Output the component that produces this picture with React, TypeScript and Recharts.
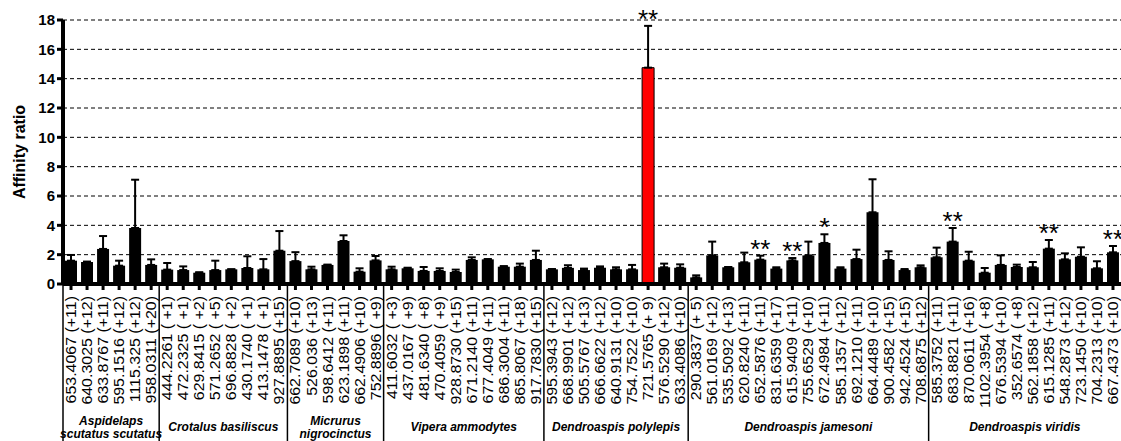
import { ComposedChart, Bar, Cell, ErrorBar, Scatter, XAxis, YAxis, CartesianGrid } from "recharts";

const LABELS = [
  "653.4067 (+11)", "640.3025 (+12)", "633.8767 (+11)", "595.1516 (+12)", "1115.325 (+12)", "958.0311 (+20)",
  "444.2261 ( +1)", "472.2325 ( +1)", "629.8415 ( +2)", "571.2652 ( +5)", "696.8828 ( +2)", "430.1740 ( +1)",
  "413.1478 ( +1)", "927.8895 (+15)",
  "662.7089 (+10)", "526.036 (+13)", "598.6412 (+11)", "623.1898 (+11)", "662.4906 (+10)", "752.8896 ( +9)",
  "411.6032 ( +3)", "437.0167 ( +9)", "481.6340 ( +8)", "470.4059 ( +9)", "928.8730 (+15)", "671.2140 (+11)",
  "677.4049 (+11)", "686.3004 (+11)", "865.8067 (+18)", "917.7830 (+15)",
  "595.3943 (+12)", "668.9901 (+12)", "505.5767 (+13)", "666.6622 (+12)", "640.9131 (+10)", "754.7522 (+10)",
  "721.5765 (+ 9)", "576.5290 (+12)", "633.4086 (+10)",
  "290.3837 (+ 5)", "561.0169 (+12)", "535.5092 (+13)", "620.8240 (+11)", "652.5876 (+11)", "831.6359 (+17)",
  "615.9409 (+11)", "755.6529 (+10)", "672.4984 (+11)", "585.1357 (+12)", "692.1210 (+11)", "664.4489 (+10)",
  "900.4582 (+15)", "942.4524 (+15)", "708.6875 (+12)",
  "585.3752 (+11)", "683.8821 (+11)", "870.0611 (+16)", "1102.3954 ( +8)", "676.5394 (+10)", "352.6574 ( +8)",
  "562.1858 (+12)", "615.1285 (+11)", "548.2873 (+12)", "723.1450 (+10)", "704.2313 (+10)", "667.4373 (+10)",
];

const RATIO = [
  1.59, 1.5, 2.39, 1.25, 3.82, 1.3,
  0.98, 0.95, 0.77, 0.95, 1.0, 1.09, 1.0, 2.27,
  1.56, 1.0, 1.3, 2.93, 0.84, 1.61,
  1.0, 1.07, 0.89, 0.89, 0.82, 1.64, 1.68, 1.18, 1.18, 1.64,
  1.0, 1.1, 0.95, 1.11, 1.0, 1.0, 14.75, 1.14, 1.11,
  0.45, 1.95, 1.14, 1.48, 1.66, 1.05, 1.61, 1.95, 2.8, 1.05, 1.7, 4.89, 1.64, 0.95, 1.14,
  1.82, 2.89, 1.59, 0.77, 1.3, 1.16, 1.14, 2.41, 1.68, 1.86, 1.07, 2.16,
];

// upper end of each error bar
const ERR_TOP = [
  1.98, 1.53, 3.27, 1.59, 7.11, 1.68,
  1.43, 1.2, 0.8, 1.59, 1.0, 1.89, 1.7, 3.61,
  2.17, 1.18, 1.32, 3.32, 1.07, 1.91,
  1.18, 1.11, 1.16, 1.07, 0.98, 1.82, 1.7, 1.22, 1.39, 2.27,
  1.02, 1.28, 1.05, 1.2, 1.14, 1.3, 17.6, 1.39, 1.34,
  0.59, 2.89, 1.16, 2.14, 1.93, 1.14, 1.77, 2.89, 3.39, 1.14, 2.34, 7.14, 2.23, 1.02, 1.27,
  2.48, 3.82, 2.2, 1.09, 1.95, 1.32, 1.5, 3.0, 2.09, 2.5, 1.55, 2.59,
];

const SIG_LABELS = ["721.5765 (+ 9)", "652.5876 (+11)", "615.9409 (+11)", "672.4984 (+11)", "683.8821 (+11)", "615.1285 (+11)", "667.4373 (+10)"];
const SIG_MARKS = ["**", "**", "**", "*", "**", "**", "**"];

const HIGHLIGHT = "721.5765 (+ 9)";

const GROUP_NAMES = [
  ["Aspidelaps", "scutatus scutatus"],
  ["Crotalus basiliscus"],
  ["Micrurus", "nigrocinctus"],
  ["Vipera ammodytes"],
  ["Dendroaspis polylepis"],
  ["Dendroaspis jamesoni"],
  ["Dendroaspis viridis"],
];
const GROUP_SIZES = [6, 8, 6, 10, 9, 15, 12];

const Y_TICKS = [0, 2, 4, 6, 8, 10, 12, 14, 16, 18];

const CHART_W = 1121;
const CHART_H = 441;
const Y_AXIS_W = 63;
const X_AXIS_H = 157;
const TICK_SIZE = 6;
const TICK_MARGIN = 2;
const FONT = "'Liberation Sans', Arial, sans-serif";

const data = LABELS.map((label, i) => {
  const s = SIG_LABELS.indexOf(label);
  return {
    label,
    ratio: RATIO[i],
    err: [0, +(ERR_TOP[i] - RATIO[i]).toFixed(2)],
    errTop: ERR_TOP[i],
    sig: s >= 0 ? SIG_MARKS[s] : "",
  };
});

const GROUP_START = GROUP_SIZES.map((_, k) => GROUP_SIZES.slice(0, k).reduce((a, b) => a + b, 0));
const BAND = (CHART_W - Y_AXIS_W) / LABELS.length;

const SampleTick = (props: any) => {
  const { x, y, payload, index } = props;
  const band = payload && payload.offset ? payload.offset * 2 : BAND;
  const axisY = y - TICK_SIZE - TICK_MARGIN;
  const g = GROUP_START.indexOf(index);
  const lines = g >= 0 ? GROUP_NAMES[g] : [];
  const cx = g >= 0 ? x + ((GROUP_SIZES[g] - 1) * band) / 2 : 0;
  return (
    <g>
      <text
        transform={`translate(${x},${axisY + 12}) rotate(-90) scale(1.14,1)`}
        textAnchor="end"
        dy="0.36em"
        fontSize={14}
        fill="#000"
        fontFamily={FONT}
        style={{ whiteSpace: "pre" }}
      >
        {payload.value}
      </text>
      {g >= 0 && (
        <g>
          <line x1={x - band / 2} x2={x - band / 2} y1={axisY} y2={CHART_H} stroke="#000" strokeWidth={1.5} />
          <text
            textAnchor="middle"
            fontSize={12}
            fontWeight="bold"
            fontStyle="italic"
            fill="#000"
            fontFamily={FONT}
          >
            {lines.map((ln, j) => (
              <tspan key={j} x={cx} y={lines.length > 1 ? 424.5 + j * 13.5 : 430.5}>
                {ln}
              </tspan>
            ))}
          </text>
        </g>
      )}
    </g>
  );
};

const StarMark = (props: any) => {
  const { cx, cy, payload } = props;
  if (!payload || !payload.sig) return <g />;
  return (
    <text x={cx} y={cy + 2} textAnchor="middle" fontSize={26} fill="#000" fontFamily={FONT}>
      {payload.sig}
    </text>
  );
};

const AxisTitle = (props: any) => {
  const { viewBox } = props;
  const cy = viewBox.y + viewBox.height / 2;
  return (
    <text
      transform={`translate(${viewBox.x + 19},${cy}) rotate(-90)`}
      textAnchor="middle"
      dy="0.36em"
      fontSize={16}
      fontWeight="bold"
      fill="#000"
      fontFamily={FONT}
    >
      Affinity ratio
    </text>
  );
};

export default function App() {
  return (
    <div style={{ position: "absolute", left: 0, top: 0, width: CHART_W, height: CHART_H, overflow: "hidden", background: "#fff" }}>
      <ComposedChart
        width={CHART_W}
        height={CHART_H}
        data={data}
        margin={{ top: 20, right: 0, left: 0, bottom: 0 }}
        style={{ fontFamily: FONT }}
      >
        <CartesianGrid vertical={false} stroke="#000" strokeDasharray="4 3" strokeWidth={1} />
        <XAxis
          dataKey="label"
          interval={0}
          height={X_AXIS_H}
          tick={<SampleTick />}
          tickSize={TICK_SIZE}
          tickMargin={TICK_MARGIN}
          tickLine={{ stroke: "#000", strokeWidth: 3 }}
          axisLine={{ stroke: "#000", strokeWidth: 4 }}
        />
        <YAxis
          width={Y_AXIS_W}
          domain={[0, 18]}
          ticks={Y_TICKS}
          interval={0}
          tickSize={TICK_SIZE}
          tickMargin={2}
          tick={{ fill: "#000", fontSize: 15, fontWeight: "bold" }}
          tickLine={{ stroke: "#000", strokeWidth: 3 }}
          axisLine={{ stroke: "#000", strokeWidth: 4 }}
          label={<AxisTitle />}
        />
        <Bar dataKey="ratio" barSize={12} fill="#000" isAnimationActive={false}>
          {data.map((d, i) => (
            <Cell
              key={i}
              fill={d.label === HIGHLIGHT ? "#ff0000" : "#000"}
              stroke="#000"
              strokeWidth={d.label === HIGHLIGHT ? 1 : 0}
            />
          ))}
          <ErrorBar dataKey="err" direction="y" width={4} stroke="#000" strokeWidth={2} />
        </Bar>
        <Scatter dataKey="errTop" shape={<StarMark />} isAnimationActive={false} legendType="none" />
      </ComposedChart>
    </div>
  );
}
